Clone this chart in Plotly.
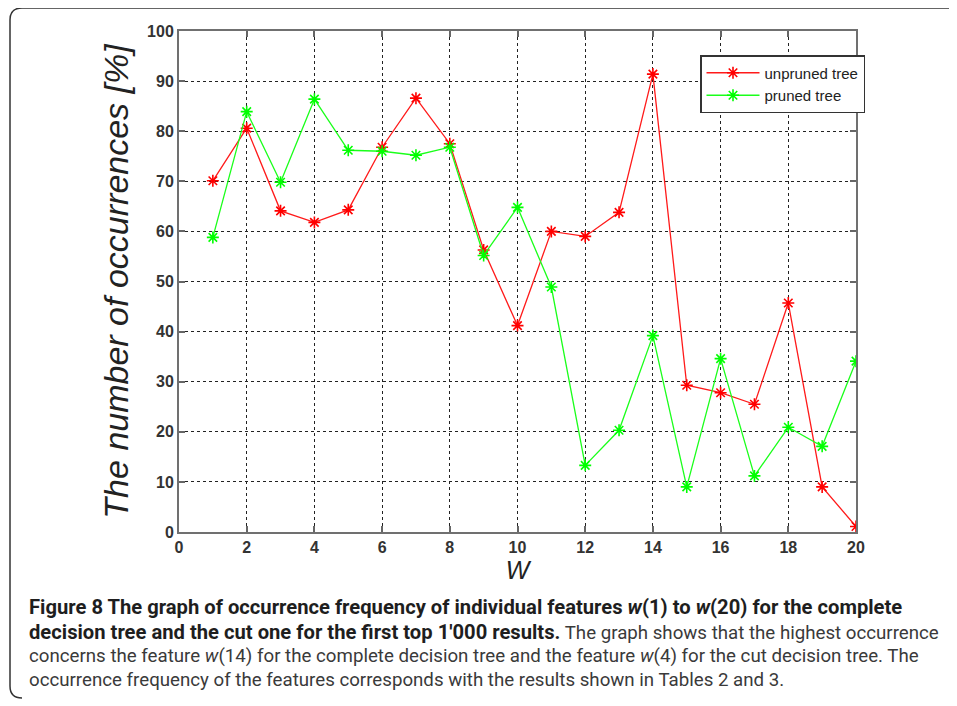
import plotly.graph_objects as go

# ---- data ----
features = list(range(1, 21))
unpruned = [70.1, 80.6, 64.1, 61.8, 64.3, 76.8, 86.6, 77.5, 56.3, 41.2,
            60.0, 59.0, 63.8, 91.4, 29.3, 27.8, 25.5, 45.7, 9.0, 1.1]
pruned = [58.8, 83.9, 69.8, 86.4, 76.2, 76.0, 75.2, 76.8, 55.2, 64.8,
          48.9, 13.3, 20.3, 39.2, 9.0, 34.6, 11.2, 20.9, 17.1, 34.1]
x_ticks = list(range(0, 21, 2))
y_ticks = list(range(0, 101, 10))

BOLD = '<span style="font-weight:bold;font-size:20.2px;color:#1e1e1e">{}</span>'
caption_lines = [
    BOLD.format("Figure 8 The graph of occurrence frequency of individual features <i>w</i>(1) to <i>w</i>(20) for the complete"),
    BOLD.format("decision tree and the cut one for the first top 1′000 results.") + " The graph shows that the highest occurrence",
    "concerns the feature <i>w</i>(14) for the complete decision tree and the feature <i>w</i>(4) for the cut decision tree. The",
    "occurrence frequency of the features corresponds with the results shown in Tables 2 and 3.",
]

# the page body adds an 8px margin, so the figure is laid out 8px smaller
OFF = 8
W, H = 957 - OFF, 706 - OFF
L, R, T, B = 179 - OFF, 856 - OFF, 31 - OFF, 532 - OFF


def px(x):
    return (x - OFF - L) / (R - L)


def py(y):
    return (B - (y - OFF)) / (B - T)


fig = go.Figure()
fig.add_trace(go.Scatter(
    x=features, y=unpruned, name="unpruned tree", mode="lines+markers",
    line=dict(color="#ff1a1a", width=1.3),
    marker=dict(symbol="asterisk-open", size=10, color="#ff0000",
                line=dict(width=1.6, color="#ff0000")),
))
fig.add_trace(go.Scatter(
    x=features, y=pruned, name="pruned tree", mode="lines+markers",
    line=dict(color="#1aff1a", width=1.3),
    marker=dict(symbol="asterisk-open", size=10, color="#00ff00",
                line=dict(width=1.6, color="#00ee00")),
))

tickfont = dict(family="Liberation Sans, Arial, sans-serif", size=16,
                color="#333333", weight="bold")

fig.update_xaxes(
    range=[0, 20], tickvals=x_ticks, ticks="inside", ticklen=6,
    tickcolor="#666666", tickwidth=1.5, automargin=False,
    showline=True, linecolor="#707070", linewidth=2, mirror="ticks",
    showgrid=True, gridcolor="#222222", gridwidth=1.4, griddash="3px,3px",
    zeroline=False, tickfont=tickfont,
    title=dict(text="<i>W</i>", standoff=6,
               font=dict(family="Liberation Sans, Arial, sans-serif", size=25, color="#222222")),
)
fig.update_yaxes(
    range=[0, 100], tickvals=y_ticks, ticks="inside", ticklen=6,
    tickcolor="#666666", tickwidth=1.5, automargin=False,
    showline=True, linecolor="#707070", linewidth=2, mirror="ticks",
    showgrid=True, gridcolor="#222222", gridwidth=1.4, griddash="3px,3px",
    zeroline=False, tickfont=tickfont,
    title=dict(text="<i>The number of occurrences [%]</i>", standoff=8,
               font=dict(family="Liberation Sans, Arial, sans-serif", size=34, color="#222222")),
)

annotations = []
ys = [607, 632, 656, 680]
for line, yy in zip(caption_lines, ys):
    annotations.append(dict(
        text=line, xref="paper", yref="paper", x=px(27), y=py(yy),
        xanchor="left", yanchor="middle", showarrow=False, align="left",
        font=dict(family="Roboto, sans-serif", size=18.7, color="#3a3a3a"),
    ))

r = 12
x0, x1 = px(10), px(960)
y0, y1 = py(8), py(698)
dx, dy = r / (R - L), r / (B - T)
frame = (f"M {x1},{y0} L {x0 + dx},{y0} Q {x0},{y0} {x0},{y0 - dy} "
         f"L {x0},{y1 + dy} Q {x0},{y1} {x0 + dx},{y1}")

fig.update_layout(
    width=W, height=H,
    margin=dict(l=L, r=W - R, t=T, b=H - B),
    paper_bgcolor="white", plot_bgcolor="white",
    showlegend=True,
    legend=dict(x=px(700), y=py(55), xanchor="left", yanchor="top",
                bgcolor="white", bordercolor="#333333", borderwidth=1.5,
                font=dict(family="Liberation Sans, Arial, sans-serif", size=15, color="#222222"),
                tracegroupgap=0, itemwidth=53),
    annotations=annotations,
    shapes=[dict(type="path", path=frame, xref="paper", yref="paper",
                 line=dict(color="#333333", width=1.5), layer="below")],
)

fig.write_html("out.html")
